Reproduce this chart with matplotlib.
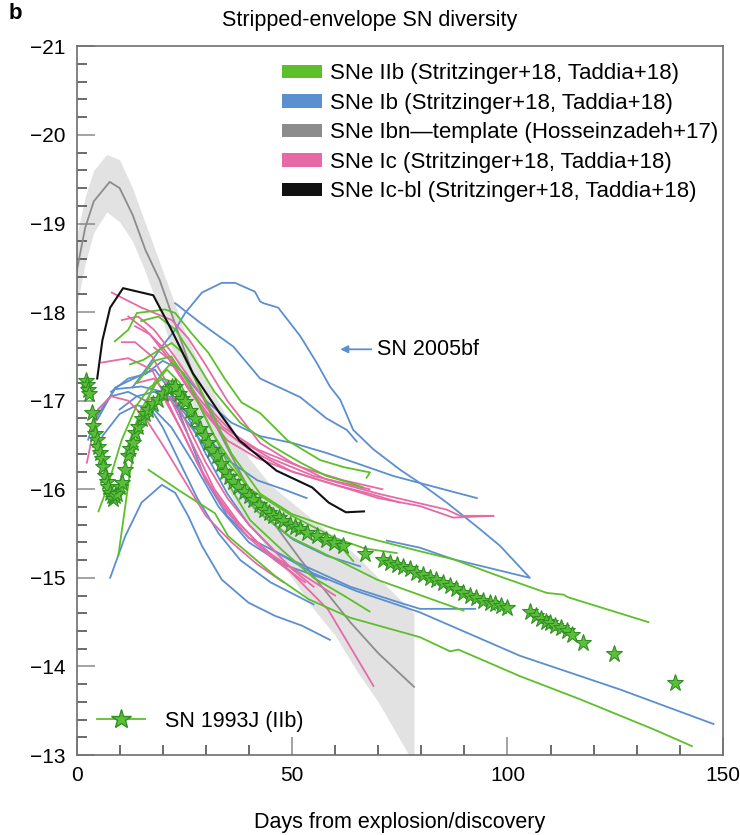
import matplotlib
matplotlib.use('Agg')
import matplotlib.pyplot as plt
from matplotlib.patches import Patch
from matplotlib.lines import Line2D
from matplotlib.ticker import MultipleLocator

plt.rcParams['font.family'] = ['Liberation Sans', 'DejaVu Sans']

# Colours for each class
c_iib = '#5dbf2a'
c_ib = '#5b8fcf'
c_ibn = '#8c8c8c'
c_ic = '#e66aa6'
c_icbl = '#111111'

# SNe IIb light curves (days, absolute mag)
iib_days = [
    [8.9, 12.0, 14.0, 17.5, 20.5, 22.9, 26.7, 30.6, 34.5, 38.3, 42.6, 49.0, 56.5, 62.0, 68.1, 67.3],
    [12.4, 15.5, 19.4, 22.1, 24.4, 28.0, 32.0, 36.0, 42.6, 50.0, 60.0, 70.0, 79.7, 87.4, 98.0, 109.1, 113.0, 114.1, 132.7],
    [11.3, 15.0, 19.8, 22.1, 25.0, 28.0, 32.0, 36.0, 40.3, 50.0, 60.0, 67.0, 74.3],
    [16.7, 24.0, 32.1, 35.2, 46.1, 53.8, 63.5, 79.7, 86.7, 88.6, 102.9, 116.8, 133.9, 142.8],
    [5.1, 7.0, 10.5, 14.0, 17.0, 20.0, 23.0, 27.0, 31.0, 36.0, 42.0, 50.0, 61.9, 69.7, 89.8],
    [9.7, 12.4, 15.0, 18.0, 21.0, 24.0, 28.0, 32.0, 36.0, 40.3, 48.0, 55.0, 62.0, 68.0],
    [15.0, 19.0, 23.0, 27.0, 32.0, 38.0, 45.0, 52.0, 58.0, 63.0, 66.5],
    [14.0, 18.0, 22.0, 26.0, 30.0, 35.0, 42.0, 50.0, 57.0, 61.9, 64.2],
]
iib_mags = [
    [-17.67, -17.80, -17.99, -18.01, -18.03, -17.99, -17.76, -17.54, -17.24, -16.98, -16.86, -16.55, -16.33, -16.25, -16.19, -16.13],
    [-17.41, -17.46, -17.58, -17.65, -17.55, -17.20, -16.80, -16.40, -15.95, -15.72, -15.55, -15.42, -15.30, -15.21, -15.02, -14.83, -14.81, -14.78, -14.50],
    [-16.41, -16.90, -17.31, -17.43, -17.30, -17.00, -16.60, -16.30, -16.00, -15.70, -15.45, -15.33, -15.28],
    [-16.22, -15.98, -15.73, -15.47, -15.02, -14.76, -14.55, -14.33, -14.17, -14.19, -13.89, -13.63, -13.29, -13.10],
    [-15.75, -16.00, -16.56, -16.95, -17.15, -17.25, -17.20, -16.90, -16.50, -16.10, -15.75, -15.45, -15.17, -14.98, -14.63],
    [-15.25, -16.19, -16.80, -17.20, -17.35, -17.20, -16.80, -16.40, -16.00, -15.65, -15.30, -15.00, -14.80, -14.62],
    [-17.90, -17.95, -17.80, -17.50, -17.10, -16.75, -16.50, -16.30, -16.15, -16.08, -16.02],
    [-17.20, -17.45, -17.50, -17.20, -16.80, -16.30, -15.90, -15.60, -15.42, -15.32, -15.19],
]

# SNe Ib light curves (first one is SN 2005bf)
ib_days = [
    [13.0, 16.0, 19.8, 22.9, 25.2, 29.1, 33.7, 36.8, 41.4, 42.6, 43.4, 46.8, 51.9, 55.7, 58.8, 61.2, 64.2, 68.9, 75.1, 79.7, 85.9, 93.6, 98.3, 105.2, 87.4, 79.7, 72.0],
    [22.9, 28.7, 36.4, 42.6, 51.9, 58.0, 62.7, 65.0],
    [7.8, 11.3, 15.1, 19.8, 22.9, 25.9, 29.1, 33.7, 39.9, 46.1, 52.3, 58.8],
    [18.0, 22.0, 26.0, 30.0, 35.0, 40.0, 46.0, 55.0, 65.0, 79.7, 102.9, 126.1, 147.8],
    [8.0, 12.0, 16.0, 20.0, 24.0, 30.0, 36.0, 42.6, 50.3, 58.0, 65.8, 73.5, 92.9],
    [5.0, 9.0, 15.0, 18.2, 22.0, 26.0, 30.0, 35.0, 40.0, 50.0, 63.5, 75.0, 79.7, 92.5],
    [4.3, 8.9, 15.1, 20.0, 25.0, 30.0, 36.0, 42.0, 48.0, 53.4],
    [2.7, 5.0, 8.0, 12.0, 16.0, 20.0, 24.0, 28.0, 33.0, 38.0, 45.0, 55.0],
    [10.0, 14.0, 18.0, 22.0, 27.1, 35.0, 42.0, 50.3, 58.0, 65.8],
    [6.0, 10.0, 14.0, 18.0, 22.0, 27.1, 33.0, 40.0, 48.0, 58.0],
]
ib_mags = [
    [-17.15, -17.35, -17.61, -17.80, -17.99, -18.22, -18.33, -18.33, -18.23, -18.12, -18.10, -18.05, -17.73, -17.43, -17.16, -17.01, -16.67, -16.45, -16.22, -16.07, -15.85, -15.55, -15.36, -15.00, -15.21, -15.34, -15.42],
    [-18.10, -17.88, -17.61, -17.25, -17.04, -16.80, -16.67, -16.54],
    [-15.00, -15.47, -15.85, -16.05, -15.96, -15.70, -15.36, -14.98, -14.72, -14.57, -14.46, -14.30],
    [-17.00, -17.05, -16.80, -16.40, -15.95, -15.60, -15.30, -15.05, -14.85, -14.61, -14.12, -13.74, -13.35],
    [-17.10, -17.25, -17.30, -17.45, -17.35, -17.00, -16.75, -16.60, -16.52, -16.41, -16.28, -16.15, -15.90],
    [-16.80, -17.15, -17.29, -17.35, -17.10, -16.60, -16.10, -15.70, -15.45, -15.20, -14.90, -14.72, -14.65, -14.65],
    [-16.79, -17.13, -17.16, -17.10, -16.90, -16.60, -16.30, -16.10, -16.00, -15.90],
    [-16.56, -16.90, -17.05, -17.10, -17.00, -16.70, -16.30, -15.90, -15.50, -15.20, -14.95, -14.70],
    [-16.90, -17.05, -17.10, -17.00, -16.67, -16.10, -15.75, -15.43, -15.25, -15.13],
    [-16.60, -16.85, -16.95, -16.90, -16.70, -16.30, -15.80, -15.40, -15.15, -14.98],
]

# SNe Ic light curves
ic_days = [
    [8.2, 15.1, 22.1, 26.0, 30.0, 35.0, 42.6, 50.0, 58.0, 70.0, 85.9, 89.0, 96.7],
    [10.5, 14.3, 18.0, 22.0, 27.0, 32.0, 38.0, 45.0, 55.0, 68.0],
    [13.6, 17.0, 21.0, 25.0, 30.0, 35.0, 42.0, 50.0, 60.0, 70.0, 79.7, 87.4, 96.7],
    [10.5, 13.6, 17.5, 21.0, 25.0, 30.0, 35.0, 40.0, 45.0, 50.0, 55.0],
    [5.8, 12.0, 17.5, 21.0, 25.0, 30.0, 36.0, 42.0, 48.0, 58.4, 68.9],
    [2.4, 3.5, 5.0, 8.0, 12.0, 16.0, 20.0, 25.0, 30.0, 36.0, 42.0, 48.0],
    [14.0, 18.0, 22.0, 27.0, 32.0, 38.0, 44.0, 52.0, 60.0],
    [16.0, 20.0, 24.0, 28.0, 34.0, 40.0, 46.0, 53.0],
    [18.0, 22.0, 26.0, 32.0, 40.0, 50.0, 60.0, 68.0, 75.0],
    [12.0, 16.0, 20.0, 24.0, 28.0, 34.0, 42.0, 52.0, 62.0, 71.0],
]
ic_mags = [
    [-18.22, -18.05, -17.91, -17.70, -17.40, -17.00, -16.52, -16.30, -16.11, -15.95, -15.77, -15.70, -15.70],
    [-17.91, -17.95, -17.80, -17.55, -17.20, -16.85, -16.55, -16.35, -16.15, -16.00],
    [-17.84, -17.75, -17.50, -17.20, -16.85, -16.55, -16.35, -16.20, -16.05, -15.90, -15.81, -15.68, -15.70],
    [-17.66, -17.66, -17.50, -17.20, -16.80, -16.30, -15.90, -15.60, -15.35, -15.10, -14.90],
    [-17.43, -17.48, -17.35, -17.00, -16.60, -16.10, -15.70, -15.40, -15.15, -14.64, -13.78],
    [-16.30, -16.56, -16.90, -17.05, -17.00, -16.80, -16.50, -16.10, -15.70, -15.40, -15.15, -14.95],
    [-17.20, -17.25, -17.00, -16.50, -16.00, -15.60, -15.30, -15.05, -14.80],
    [-17.00, -17.05, -16.70, -16.30, -15.80, -15.45, -15.20, -14.95],
    [-17.60, -17.45, -17.15, -16.75, -16.45, -16.20, -16.05, -15.95, -15.85],
    [-17.95, -17.80, -17.60, -17.35, -17.05, -16.70, -16.45, -16.25, -16.10, -16.00],
]

# SNe Ic-bl
icbl_days = [4.8, 6.0, 7.8, 10.8, 17.8, 21.7, 27.0, 33.2, 37.8, 46.4, 54.7, 58.5, 62.5, 66.7]
icbl_mags = [-17.25, -17.68, -18.05, -18.27, -18.19, -17.83, -17.31, -16.86, -16.55, -16.21, -16.02, -15.85, -15.74, -15.75]

# SNe Ibn template with its spread
ibn_days = [0.0, 2.0, 4.0, 7.7, 10.0, 13.0, 16.0, 19.3, 23.0, 27.0, 32.0, 40.0, 51.9, 63.5, 70.0, 78.3]
ibn_mags = [-18.45, -18.95, -19.25, -19.47, -19.40, -19.10, -18.70, -18.36, -17.85, -17.30, -16.75, -16.00, -15.21, -14.50, -14.15, -13.77]
ibn_band_days = [0.0, 2.0, 4.0, 7.0, 10.0, 13.0, 16.0, 19.0, 22.0, 25.0, 30.0, 35.0, 40.0, 45.0, 50.0, 55.0, 60.0, 65.0, 70.0, 78.3]
ibn_band_hi = [-18.85, -19.30, -19.60, -19.78, -19.72, -19.40, -19.00, -18.60, -18.20, -17.80, -17.25, -16.80, -16.35, -16.05, -15.85, -15.65, -15.45, -15.25, -15.00, -14.60]
ibn_band_lo = [-18.05, -18.55, -18.90, -19.13, -19.02, -18.80, -18.45, -18.05, -17.60, -17.20, -16.55, -16.00, -15.60, -15.30, -15.00, -14.65, -14.35, -13.95, -13.60, -12.90]

# SN 1993J
sn93j_days = [2.2, 2.4, 2.6, 2.8, 3.5, 3.9, 4.3, 4.7, 5.1, 5.5, 5.8, 6.2, 6.6, 7.0, 7.4, 7.8, 8.2, 8.5,
              9.0, 9.5, 10.0, 10.5, 11.3, 12.0, 12.5, 13.2, 13.6, 14.3, 15.1, 15.9, 16.7, 17.8, 19.0,
              20.1, 21.3, 22.1, 22.9, 23.8, 24.5, 25.2, 26.3, 27.5, 28.7, 29.8, 30.6, 31.4, 32.5, 33.5,
              34.5, 35.4, 36.4, 37.5, 38.8, 40.0, 41.0, 42.3, 43.5, 44.6, 45.7, 47.0, 48.0, 49.5, 50.8,
              51.9, 53.5, 55.7, 58.0, 59.8, 61.9, 67.0, 71.0, 72.8, 74.3, 75.8, 77.4, 78.8, 80.3, 82.0,
              83.5, 85.0, 86.7, 88.0, 89.6, 91.3, 92.8, 94.3, 95.9, 97.0, 98.5, 99.8, 105.2, 106.5,
              107.8, 109.0, 109.9, 111.0, 112.5, 113.8, 115.0, 117.6, 124.8, 138.9]
sn93j_mags = [-17.22, -17.18, -17.12, -17.08, -16.86, -16.71, -16.62, -16.56, -16.48, -16.41, -16.34, -16.25,
              -16.15, -16.08, -16.02, -15.96, -15.92, -15.89, -15.92, -15.95, -16.02, -16.07, -16.22, -16.37,
              -16.45, -16.52, -16.64, -16.70, -16.79, -16.85, -16.90, -16.96, -17.01, -17.07, -17.13, -17.15,
              -17.16, -17.08, -17.02, -16.98, -16.88, -16.79, -16.68, -16.60, -16.52, -16.44, -16.38, -16.28,
              -16.20, -16.14, -16.08, -16.02, -15.97, -15.92, -15.88, -15.82, -15.77, -15.73, -15.70, -15.67,
              -15.64, -15.60, -15.57, -15.55, -15.51, -15.47, -15.43, -15.39, -15.36, -15.27, -15.20, -15.17,
              -15.14, -15.12, -15.10, -15.06, -15.03, -15.00, -14.97, -14.94, -14.91, -14.87, -14.83, -14.79,
              -14.77, -14.74, -14.72, -14.70, -14.68, -14.66, -14.61, -14.57, -14.53, -14.50, -14.49, -14.46,
              -14.43, -14.40, -14.36, -14.27, -14.14, -13.81]

legend_labels = ['SNe IIb (Stritzinger+18, Taddia+18)',
                 'SNe Ib (Stritzinger+18, Taddia+18)',
                 'SNe Ibn\u2014template (Hosseinzadeh+17)',
                 'SNe Ic (Stritzinger+18, Taddia+18)',
                 'SNe Ic-bl (Stritzinger+18, Taddia+18)']

fig = plt.figure(figsize=(7.4, 8.35), dpi=100)
ax = fig.add_axes([0.1034, 0.0958, 0.8736, 0.8487])
ax.set_xlim(0, 150)
ax.set_ylim(-13, -21)

# Ibn template band and line
ax.fill_between(ibn_band_days, ibn_band_hi, ibn_band_lo, color='#e2e2e2', lw=0, zorder=1)
ax.plot(ibn_days, ibn_mags, color=c_ibn, lw=1.3, zorder=2)

for d, m in zip(ib_days, ib_mags):
    ax.plot(d, m, color=c_ib, lw=1.3, zorder=3)
for d, m in zip(ic_days, ic_mags):
    ax.plot(d, m, color=c_ic, lw=1.3, zorder=3)
for d, m in zip(iib_days, iib_mags):
    ax.plot(d, m, color=c_iib, lw=1.3, zorder=3)
ax.plot(icbl_days, icbl_mags, color=c_icbl, lw=1.5, zorder=4)

# SN 1993J as stars
ax.plot(sn93j_days, sn93j_mags, ls='none', marker='*', ms=12.5,
        mfc='#5cbf3a', mec='#2f8f22', mew=0.8, zorder=5)

# SN 2005bf arrow
ax.annotate('SN 2005bf', xy=(61.2, -17.58), xytext=(69.7, -17.58),
            fontsize=15.5, va='center', ha='left',
            arrowprops=dict(arrowstyle='-|>', color=c_ib, lw=1.3,
                            mutation_scale=11, shrinkA=2, shrinkB=0))

# Axes styling
for s in ax.spines.values():
    s.set_color('#6e6e6e')
    s.set_linewidth(1.2)
ax.xaxis.set_major_locator(MultipleLocator(50))
ax.xaxis.set_minor_locator(MultipleLocator(10))
ax.yaxis.set_major_locator(MultipleLocator(1))
ax.yaxis.set_minor_locator(MultipleLocator(0.2))
ax.tick_params(which='both', direction='in', top=False, right=False, labelsize=15)
ax.tick_params(which='major', length=13, width=1.1, color='#8a8a8a', pad=8)
ax.tick_params(which='minor', length=7, width=1.1, color='#444444')
ax.set_xlabel('Days from explosion/discovery', fontsize=15.5, labelpad=19)

# Class legend
handles = [Patch(facecolor=c, edgecolor='none') for c in [c_iib, c_ib, c_ibn, c_ic, c_icbl]]
leg1 = ax.legend(handles, legend_labels, loc='upper left', bbox_to_anchor=(0.318, 0.976),
                 frameon=False, fontsize=16, handlelength=1.8, handleheight=0.55,
                 handletextpad=0.36, labelspacing=0.38, borderpad=0, borderaxespad=0)
ax.add_artist(leg1)

# SN 1993J legend
h93 = Line2D([], [], color=c_iib, lw=1.3, marker='*', ms=15, mfc='#5cbf3a', mec='#2f8f22')
ax.legend([h93], ['SN 1993J (IIb)'], loc='lower left', bbox_to_anchor=(0.032, 0.033),
          frameon=False, fontsize=15.5, handlelength=2.2, handletextpad=0.93,
          borderpad=0, borderaxespad=0)

fig.text(0.5, 0.976, 'Stripped-envelope SN diversity', ha='center', va='center', fontsize=15.5)
fig.text(0.012, 0.984, 'b', ha='left', va='center', fontsize=16, fontweight='bold')

fig.savefig('out.png', dpi=100)
